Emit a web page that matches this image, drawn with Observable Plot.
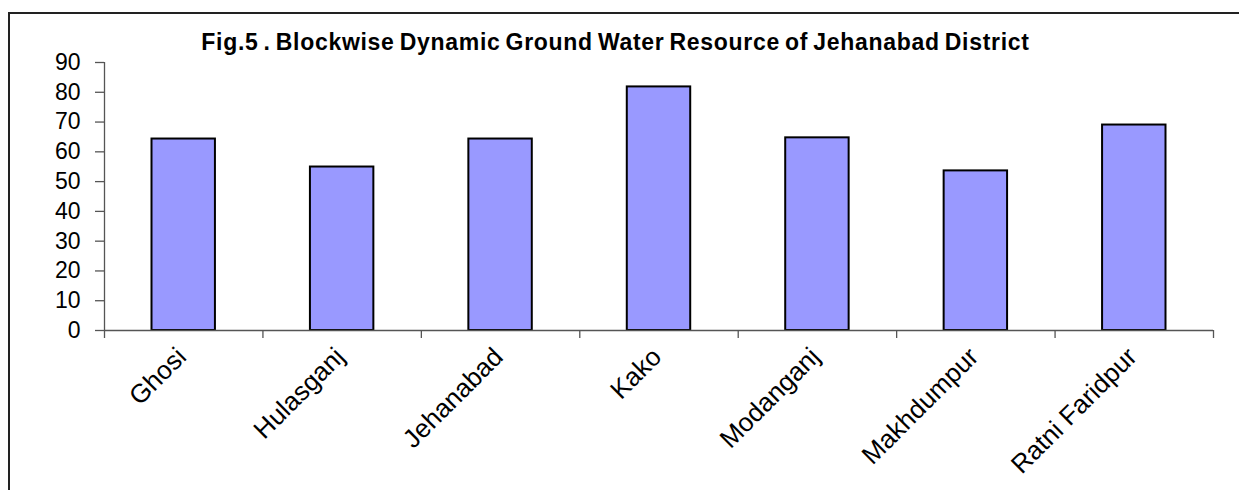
<!DOCTYPE html>
<html>
<head>
<meta charset="utf-8">
<script src="https://cdn.jsdelivr.net/npm/d3@7"></script>
<script src="https://cdn.jsdelivr.net/npm/@observablehq/plot@0.6"></script>
<style>
  html, body { margin: 0; padding: 0; background: #fff; }
  #wrap { position: relative; width: 1239px; height: 490px; overflow: hidden; font-family: Arial, "Liberation Sans", sans-serif; }
  #bl { position: absolute; left: 8px; top: 12px; width: 2px; height: 490px; background: #222; }
  #bt { position: absolute; left: 8px; top: 12px; width: 1240px; height: 2px; background: #222; }
  #title { position: absolute; left: 0; top: 29px; width: 1231px; text-align: center; box-sizing: border-box; white-space: nowrap;
           font: bold 23px Arial, "Liberation Sans", sans-serif; color: #000; letter-spacing: 0.7px; word-spacing: -2px; line-height: 26px; }
  #chart { position: absolute; left: 0; top: 50px; }
  #chart svg { overflow: visible; background: transparent; }
</style>
</head>
<body>
<div id="wrap">
  <div id="bl"></div>
  <div id="bt"></div>
  <div id="title">Fig.5 . Blockwise Dynamic Ground Water Resource of Jehanabad District</div>
  <div id="chart"></div>
</div>
<script>
const categories = ["Ghosi", "Hulasganj", "Jehanabad", "Kako", "Modanganj", "Makhdumpur", "Ratni Faridpur"];
const values = [64.3, 54.9, 64.3, 81.8, 64.7, 53.6, 69.0];
const yTicks = [0, 10, 20, 30, 40, 50, 60, 70, 80, 90];

const data = categories.map((c, i) => ({category: c, index: i, value: values[i]}));
const boundaries = d3.range(0, categories.length + 1);

const W = 1239, H = 440;
const plot = Plot.plot({
  width: W,
  height: H,
  marginTop: 12,
  marginBottom: 160,
  marginLeft: 104,
  marginRight: 26,
  style: {fontFamily: "Arial, 'Liberation Sans', sans-serif", background: "transparent", overflow: "visible"},
  x: {type: "linear", domain: [0, categories.length]},
  y: {domain: [0, 90]},
  marks: [
    Plot.rectY(data, {x1: d => d.index, x2: d => d.index + 1, y: "value", insetLeft: 47.5, insetRight: 47.5, fill: "#9999ff", stroke: "#000", strokeWidth: 2}),
    Plot.ruleY([0], {stroke: "#555", strokeWidth: 1.3}),
    Plot.ruleX([0], {stroke: "#555", strokeWidth: 1.3}),
    Plot.axisX({ticks: boundaries, tickFormat: () => "", tickSize: 8, stroke: "#555", strokeWidth: 1.3}),
    Plot.axisY({ticks: yTicks, tickSize: 9, tickPadding: 15, fontSize: 23, stroke: "#555", strokeWidth: 1.3, fill: "#000", label: null}),
    Plot.text(data, {x: d => d.index + 0.5, frameAnchor: "bottom", text: "category", rotate: -45, textAnchor: "end", dx: 4, dy: 28, fontSize: 26, fill: "#000"})
  ]
});
document.getElementById("chart").appendChild(plot);
</script>
</body>
</html>
